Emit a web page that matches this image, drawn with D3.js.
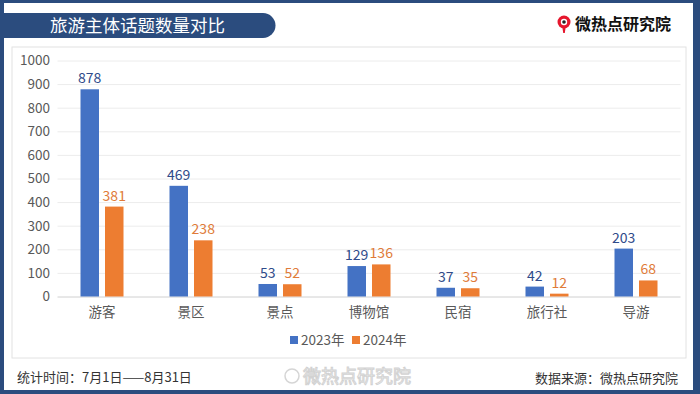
<!DOCTYPE html>
<html>
<head>
<meta charset="utf-8">
<script src="https://cdn.jsdelivr.net/npm/d3@7"></script>
<style>
  body { margin: 0; background: #fff; }
  text { font-family: "Noto Sans CJK SC", "Noto Sans", sans-serif; }
</style>
</head>
<body>
<div id="chart"></div>
<script>
const categories = ["游客", "景区", "景点", "博物馆", "民宿", "旅行社", "导游"];
const seriesNames = ["2023年", "2024年"];
const values2023 = [878, 469, 53, 129, 37, 42, 203];
const values2024 = [381, 238, 52, 136, 35, 12, 68];
const yTicks = [0, 100, 200, 300, 400, 500, 600, 700, 800, 900, 1000];

const W = 700, H = 394;
const frame = "#2b4c7e";
const colors = ["#4472c4", "#ed7d31"];
const labelColors = ["#2f4b8a", "#e07b39"];

const svg = d3.select("#chart").append("svg")
  .attr("width", W).attr("height", H);

// outer frame
svg.append("rect").attr("width", W).attr("height", H).attr("fill", frame);
svg.append("rect").attr("x", 4).attr("y", 3).attr("width", W - 11).attr("height", H - 7)
  .attr("fill", "#fff");

// title pill
svg.append("path")
  .attr("d", "M4,13 H263 A12.5,12.5 0 0 1 263,38 H4 Z")
  .attr("fill", frame);
svg.append("text").attr("x", 50).attr("y", 31.5)
  .attr("fill", "#fff").attr("font-size", 17.5)
  .text("旅游主体话题数量对比");

// logo top right
const logo = svg.append("g").attr("transform", "translate(564,22)");
logo.append("circle").attr("r", 6.5).attr("fill", "#e6162d");
logo.append("circle").attr("r", 3.2).attr("fill", "#fff");
logo.append("circle").attr("r", 1.8).attr("fill", "#222");
logo.append("path").attr("d", "M-1.5,6 L1.5,6 L0.8,11 L-0.8,11 Z").attr("fill", "#e6162d");
svg.append("text").attr("x", 575).attr("y", 29.5)
  .attr("fill", "#111").attr("font-size", 16).attr("font-weight", "bold")
  .text("微热点研究院");

// chart panel
svg.append("rect").attr("x", 12).attr("y", 47).attr("width", 674).attr("height", 311)
  .attr("fill", "#fff").attr("stroke", "#e2e2e2");

const x = d3.scaleBand().domain(categories).range([57.5, 680.5]);
const y = d3.scaleLinear().domain([0, 1000]).range([296.5, 60.5]);
const xs = d3.scaleBand().domain(seriesNames).range([-21.5, 21.5]).paddingInner(0.245);

// grid
svg.append("g").selectAll("line").data(yTicks).join("line")
  .attr("x1", 57.5).attr("x2", 680.5)
  .attr("y1", d => y(d) + 0.5).attr("y2", d => y(d) + 0.5)
  .attr("stroke", d => d === 0 ? "#d0d0d0" : "#ececec");

// y axis labels
const yAxis = svg.append("g").attr("transform", "translate(50,0)")
  .call(d3.axisLeft(y).tickValues(yTicks).tickFormat(d3.format("d")).tickSize(0).tickPadding(0));
yAxis.select(".domain").remove();
yAxis.selectAll("text").attr("font-size", 13.5).attr("fill", "#595959")
  .style("font-family", "'Noto Sans CJK SC', sans-serif");

// x axis labels
const xAxis = svg.append("g").attr("transform", "translate(0,303)")
  .call(d3.axisBottom(x).tickSize(0).tickPadding(4));
xAxis.select(".domain").remove();
xAxis.selectAll("text").attr("font-size", 13.5).attr("fill", "#595959")
  .style("font-family", "'Noto Sans CJK SC', sans-serif");

const series = [values2023, values2024];
series.forEach((vals, si) => {
  const g = svg.append("g");
  const rows = categories.map((c, i) => ({ c, v: vals[i] }));
  g.selectAll("rect").data(rows).join("rect")
    .attr("x", d => x(d.c) + x.bandwidth() / 2 + xs(seriesNames[si]))
    .attr("width", xs.bandwidth())
    .attr("y", d => y(d.v))
    .attr("height", d => y(0) - y(d.v))
    .attr("fill", colors[si]);
  g.selectAll("text").data(rows).join("text")
    .attr("x", d => x(d.c) + x.bandwidth() / 2 + xs(seriesNames[si]) + xs.bandwidth() / 2)
    .attr("y", d => y(d.v) - 6)
    .attr("text-anchor", "middle")
    .attr("font-size", 14)
    .attr("fill", labelColors[si])
    .text(d => d.v);
});

// legend
const legend = svg.append("g").attr("transform", "translate(290,345)");
seriesNames.forEach((n, i) => {
  const lg = legend.append("g").attr("transform", `translate(${i * 62},0)`);
  lg.append("rect").attr("x", 0).attr("y", -9).attr("width", 8).attr("height", 8).attr("fill", colors[i]);
  lg.append("text").attr("x", 11).attr("y", 0).attr("font-size", 13.5).attr("fill", "#595959").text(n);
});

// footer
svg.append("text").attr("x", 17).attr("y", 382).attr("font-size", 13).attr("fill", "#333")
  .text("统计时间：7月1日——8月31日");
svg.append("text").attr("x", 678).attr("y", 383).attr("text-anchor", "end")
  .attr("font-size", 13).attr("fill", "#333")
  .text("数据来源：微热点研究院");

// watermark
const wm = svg.append("g").attr("opacity", 0.75);
wm.append("circle").attr("cx", 292).attr("cy", 376).attr("r", 7)
  .attr("fill", "none").attr("stroke", "#c8c8c8").attr("stroke-width", 1.5);
wm.append("text").attr("x", 303).attr("y", 383).attr("font-size", 18)
  .attr("fill", "#fff").attr("stroke", "#c4c4c4").attr("stroke-width", 1)
  .text("微热点研究院");
</script>
</body>
</html>
